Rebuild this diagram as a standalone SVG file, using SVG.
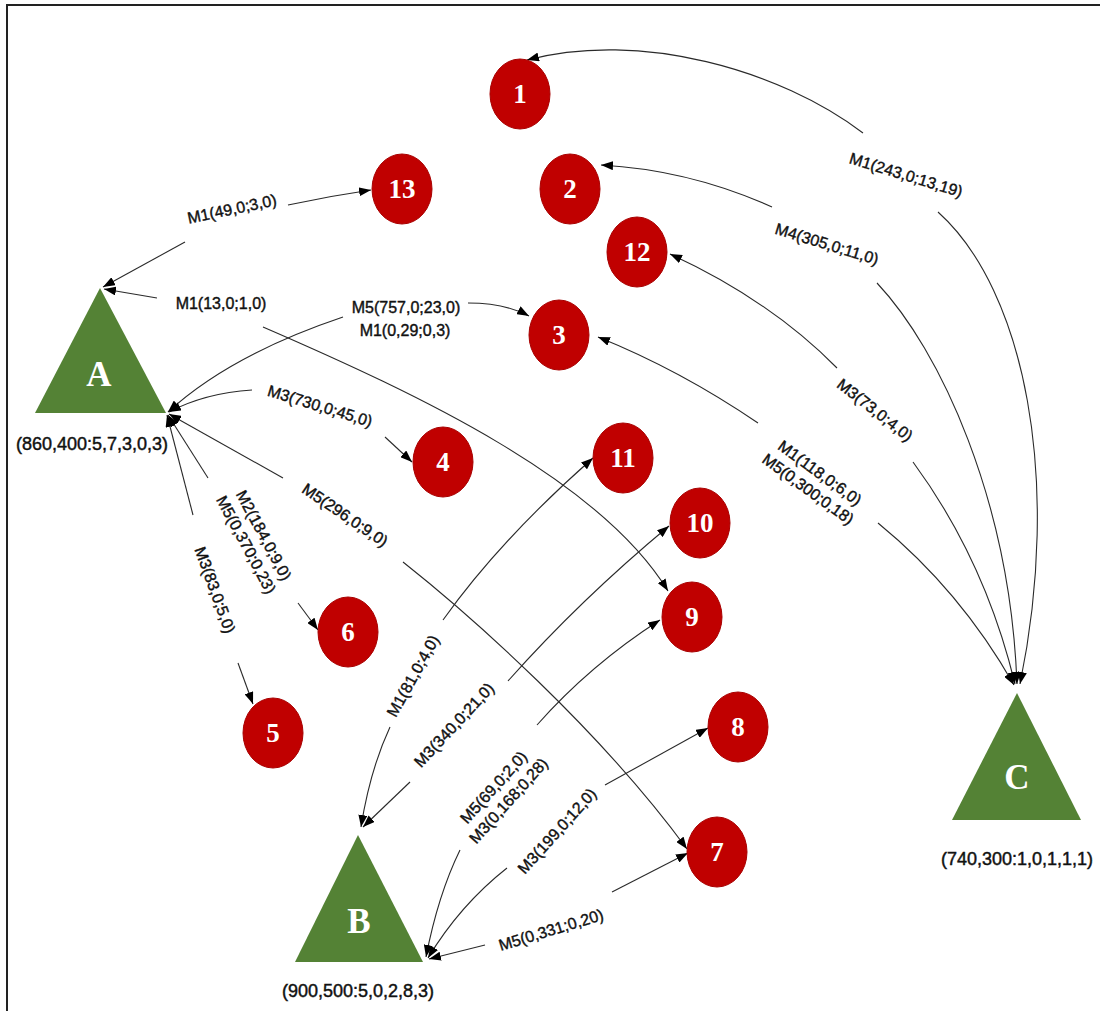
<svg xmlns="http://www.w3.org/2000/svg" width="1100" height="1011" viewBox="0 0 1100 1011">
  <style>
    .frame { fill: none; stroke: #222; stroke-width: 2; }
    .circ { fill: #C00000; stroke: #A80000; stroke-width: 1; }
    .tri { fill: #548235; }
    .num { font-family: "Liberation Serif", serif; font-weight: bold; font-size: 27px; fill: #fff; text-anchor: middle; dominant-baseline: central; }
    .big { font-family: "Liberation Serif", serif; font-weight: bold; font-size: 35px; fill: #fff; text-anchor: middle; dominant-baseline: central; }
    .cap { font-family: "Liberation Sans", Arial, sans-serif; font-size: 18px; fill: #111; stroke: #111; stroke-width: 0.45; text-anchor: middle; dominant-baseline: central; }
    .lbl { font-family: "Liberation Sans", Arial, sans-serif; font-size: 16px; fill: #111; stroke: #111; stroke-width: 0.4; text-anchor: middle; dominant-baseline: central; }
    .edge { fill: none; stroke: #2a2a2a; stroke-width: 1.1; marker-end: url(#arr); }
  </style>
  <defs>
    <marker id="arr" viewBox="0 0 12 9" refX="12" refY="4.5" markerWidth="12" markerHeight="9" markerUnits="userSpaceOnUse" orient="auto">
      <path d="M0,0 L12,4.5 L0,9 z" fill="#000"/>
    </marker>
  </defs>
  <rect width="1100" height="1011" fill="#fff"/>
  <path class="frame" d="M7,1011 V5 H1100"/>

  <g id="connectors">
    <!-- A apex to 13 -->
    <path class="edge" d="M185,242 L103,287"/>
    <path class="edge" d="M288,205 Q330,196 371,190"/>
    <!-- A apex to 9 -->
    <path class="edge" d="M157,298 L104,289"/>
    <path class="edge" d="M263,327 C420,395 600,480 668,591"/>
    <!-- A vertex to 3 -->
    <path class="edge" d="M343,317 Q230,355 168,412"/>
    <path class="edge" d="M468,303 Q505,303 529,316"/>
    <!-- A vertex to 4 -->
    <path class="edge" d="M252,390 Q205,393 169,412"/>
    <path class="edge" d="M385,437 L412,462"/>
    <!-- A vertex to 7 -->
    <path class="edge" d="M283,478 L169,414"/>
    <path class="edge" d="M403,562 C470,615 600,730 687,849"/>
    <!-- A vertex to 6 -->
    <path class="edge" d="M208,478 L168,415"/>
    <path class="edge" d="M298,603 L318,630"/>
    <!-- A vertex to 5 -->
    <path class="edge" d="M193,515 L167,415"/>
    <path class="edge" d="M238,663 L253,704"/>
    <!-- B apex to 11 -->
    <path class="edge" d="M390,727 Q370,770 361,827"/>
    <path class="edge" d="M443,620 Q500,540 593,458"/>
    <!-- B apex to 10 -->
    <path class="edge" d="M410,782 L363,827"/>
    <path class="edge" d="M508,681 Q580,600 669,526"/>
    <!-- B vertex to 9 -->
    <path class="edge" d="M460,850 Q438,895 426,957"/>
    <path class="edge" d="M537,725 Q590,665 660,620"/>
    <!-- B vertex to 8 -->
    <path class="edge" d="M507,868 Q460,905 428,958"/>
    <path class="edge" d="M605,785 L708,728"/>
    <!-- B vertex to 7 -->
    <path class="edge" d="M485,945 L429,959"/>
    <path class="edge" d="M612,892 L688,853"/>
    <!-- C apex to 1 -->
    <path class="edge" d="M938,212 C1025,290 1062,480 1020,684"/>
    <path class="edge" d="M863,133 C780,70 640,30 527,60"/>
    <!-- C apex to 2 -->
    <path class="edge" d="M877,283 C940,350 1010,500 1017,684"/>
    <path class="edge" d="M772,207 Q690,170 601,165"/>
    <!-- C apex to 12 -->
    <path class="edge" d="M913,462 Q985,560 1015,684"/>
    <path class="edge" d="M837,368 Q770,300 670,254"/>
    <!-- C apex to 3 -->
    <path class="edge" d="M878,523 Q960,590 1014,685"/>
    <path class="edge" d="M758,423 Q680,370 598,337"/>

    <!-- edge labels -->
    <text class="lbl" transform="translate(232,209) rotate(-12)">M1(49,0;3,0)</text>
    <text class="lbl" x="221" y="303">M1(13,0;1,0)</text>
    <text class="lbl" x="406" y="307">M5(757,0;23,0)</text>
    <text class="lbl" x="405" y="330">M1(0,29;0,3)</text>
    <text class="lbl" transform="translate(320,406) rotate(17)">M3(730,0;45,0)</text>
    <text class="lbl" transform="translate(345,515) rotate(34)">M5(296,0;9,0)</text>
    <g transform="translate(255,540) rotate(62)">
      <text class="lbl" x="0" y="-10">M2(184,0;9,0)</text>
      <text class="lbl" x="0" y="10">M5(0,370;0,23)</text>
    </g>
    <text class="lbl" transform="translate(215,590) rotate(70)">M3(83,0;5,0)</text>
    <text class="lbl" transform="translate(413,676) rotate(-61)">M1(81,0;4,0)</text>
    <text class="lbl" transform="translate(454,725) rotate(-47)">M3(340,0;21,0)</text>
    <g transform="translate(501,794) rotate(-48)">
      <text class="lbl" x="0" y="-10">M5(69,0;2,0)</text>
      <text class="lbl" x="0" y="10">M3(0,168;0,28)</text>
    </g>
    <text class="lbl" transform="translate(557,831) rotate(-48)">M3(199,0;12,0)</text>
    <text class="lbl" transform="translate(551,930) rotate(-17)">M5(0,331;0,20)</text>
    <text class="lbl" transform="translate(906,175) rotate(17)">M1(243,0;13,19)</text>
    <text class="lbl" transform="translate(827,244) rotate(17)">M4(305,0;11,0)</text>
    <text class="lbl" transform="translate(875,410) rotate(38)">M3(73,0;4,0)</text>
    <g transform="translate(814,481) rotate(36)">
      <text class="lbl" x="0" y="-10">M1(118,0;6,0)</text>
      <text class="lbl" x="0" y="10">M5(0,300;0,18)</text>
    </g>
  </g>

  <g id="node-A">
    <polygon class="tri" points="100,288 35,413 166,413"/>
    <text class="big" x="99" y="374">A</text>
    <text class="cap" x="92" y="444">(860,400:5,7,3,0,3)</text>
  </g>
  <g id="node-B">
    <polygon class="tri" points="358,835 295,962 423,962"/>
    <text class="big" x="359" y="921">B</text>
    <text class="cap" x="358" y="991">(900,500:5,0,2,8,3)</text>
  </g>
  <g id="node-C">
    <polygon class="tri" points="1017,693 952,820 1081,820"/>
    <text class="big" x="1017" y="777">C</text>
    <text class="cap" x="1017" y="859">(740,300:1,0,1,1,1)</text>
  </g>

  <g id="node-1"><ellipse class="circ" cx="520" cy="94" rx="30" ry="35"/><text class="num" x="520" y="94">1</text></g>
  <g id="node-2"><ellipse class="circ" cx="570" cy="189" rx="30" ry="35"/><text class="num" x="570" y="189">2</text></g>
  <g id="node-3"><ellipse class="circ" cx="559" cy="335" rx="30" ry="35"/><text class="num" x="559" y="335">3</text></g>
  <g id="node-4"><ellipse class="circ" cx="443" cy="462" rx="30" ry="35"/><text class="num" x="443" y="462">4</text></g>
  <g id="node-5"><ellipse class="circ" cx="273" cy="733" rx="30" ry="35"/><text class="num" x="273" y="733">5</text></g>
  <g id="node-6"><ellipse class="circ" cx="348" cy="632" rx="30" ry="35"/><text class="num" x="348" y="632">6</text></g>
  <g id="node-7"><ellipse class="circ" cx="717" cy="852" rx="30" ry="35"/><text class="num" x="717" y="852">7</text></g>
  <g id="node-8"><ellipse class="circ" cx="738" cy="727" rx="30" ry="35"/><text class="num" x="738" y="727">8</text></g>
  <g id="node-9"><ellipse class="circ" cx="692" cy="617" rx="30" ry="35"/><text class="num" x="692" y="617">9</text></g>
  <g id="node-10"><ellipse class="circ" cx="700" cy="523" rx="30" ry="35"/><text class="num" x="700" y="523">10</text></g>
  <g id="node-11"><ellipse class="circ" cx="623" cy="458" rx="30" ry="35"/><text class="num" x="623" y="458">11</text></g>
  <g id="node-12"><ellipse class="circ" cx="637" cy="252" rx="30" ry="35"/><text class="num" x="637" y="252">12</text></g>
  <g id="node-13"><ellipse class="circ" cx="402" cy="189" rx="30" ry="35"/><text class="num" x="402" y="189">13</text></g>
</svg>
